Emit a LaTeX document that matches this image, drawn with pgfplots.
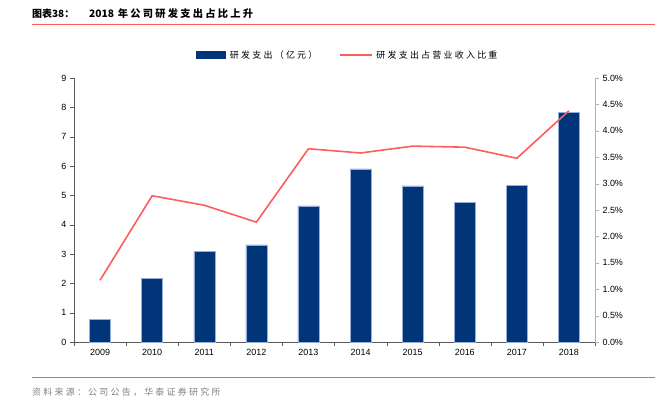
\documentclass[border=0pt]{standalone}
\usepackage{pgfplots}
\pgfplotsset{compat=1.18}
\usepackage{fontspec}
\setmainfont{Liberation Sans}
\newfontfamily\cjk{Noto Sans CJK SC}
\newfontfamily\cjkwide{Noto Sans CJK SC}[LetterSpace=25]
\newfontfamily\cjktitle{Noto Sans CJK SC}[LetterSpace=22]
\definecolor{barblue}{RGB}{0,53,122}
\definecolor{lnred}{RGB}{255,92,92}
\definecolor{axgray}{RGB}{90,90,90}
\begin{document}
\begin{tikzpicture}[x=1bp,y=1bp]
\path[use as bounding box] (0,0) rectangle (659,409);
% title
\node[anchor=west,inner sep=0] at (32,395) {\cjk\fontsize{10}{12}\selectfont\bfseries 图表38：};
\node[anchor=west,inner sep=0] at (89,395) {\cjk\fontsize{10.3}{12}\selectfont\bfseries 2018\hspace{0.35em}{\cjktitle 年公司研发支出占比上升}};
\draw[lnred,line width=1pt] (32,385) -- (655,385);
\draw[lnred,line width=1pt] (32,32) -- (655,32);
\node[anchor=west,inner sep=0,text=gray] at (32,17) {\cjkwide\fontsize{9}{10}\selectfont 资料来源：公司公告，华泰证券研究所};
\begin{axis}[
  at={(74bp,67bp)}, anchor=south west,
  width=521bp, height=264bp, scale only axis,
  xmin=-0.5, xmax=9.5, ymin=0, ymax=9,
  axis x line*=bottom, axis y line*=left,
  axis line style={axgray},
  xtick={0,...,9},
  xticklabels={2009,2010,2011,2012,2013,2014,2015,2016,2017,2018},
  major x tick style={draw=none},
  minor xtick={-0.5,0.5,...,9.5},
  minor tick length=4bp,
  minor x tick style={axgray},
  ytick={0,...,9},
  tick align=outside, major tick length=4bp,
  y tick style={axgray},
  ticklabel style={font=\fontsize{9}{10}\selectfont},
  /pgf/number format/assume math mode=true,
  ybar, bar width=21bp,
  legend style={at={(0.5,1)}, anchor=center, xshift=13bp, yshift=23bp,
    legend columns=2, draw=none, fill=none,
    font=\cjkwide\fontsize{9}{10}\selectfont,
    /tikz/every even column/.append style={column sep=20bp}},
  legend cell align=left,
  legend image code/.code={\fill[barblue] (0bp,-3.5bp) rectangle (29bp,3.5bp); \path (32bp,0bp);},
]
\addplot[fill=barblue, draw={rgb,255:red,150;green,175;blue,215}, line width=0.4pt] coordinates {
(0,0.78) (1,2.18) (2,3.10) (3,3.31) (4,4.64) (5,5.90) (6,5.32) (7,4.77) (8,5.35) (9,7.84)};
\addlegendentry{研发支出（亿元）}
\addlegendimage{legend image code/.code={\draw[lnred,line width=1.6pt] (0bp,0bp) -- (32bp,0bp); \path (34bp,0bp);}}
\addlegendentry{研发支出占营业收入比重}
\end{axis}
\begin{axis}[
  at={(74bp,67bp)}, anchor=south west,
  width=521bp, height=264bp, scale only axis,
  xmin=-0.5, xmax=9.5, ymin=0, ymax=5,
  axis x line=none, axis y line*=right,
  axis line style={gray!60},
  ytick={0,0.5,...,5},
  yticklabel={\pgfmathprintnumber[fixed,fixed zerofill,precision=1]{\tick}\%},
  tick align=outside, major tick length=4bp,
  y tick style={gray!60},
  ticklabel style={font=\fontsize{9}{10}\selectfont},
  /pgf/number format/assume math mode=true,
]
\addplot[lnred, line width=1.6pt, mark=none] coordinates {
(0,1.17) (1,2.77) (2,2.59) (3,2.27) (4,3.66) (5,3.58) (6,3.71) (7,3.69) (8,3.48) (9,4.38)};
\end{axis}
\end{tikzpicture}
\end{document}
